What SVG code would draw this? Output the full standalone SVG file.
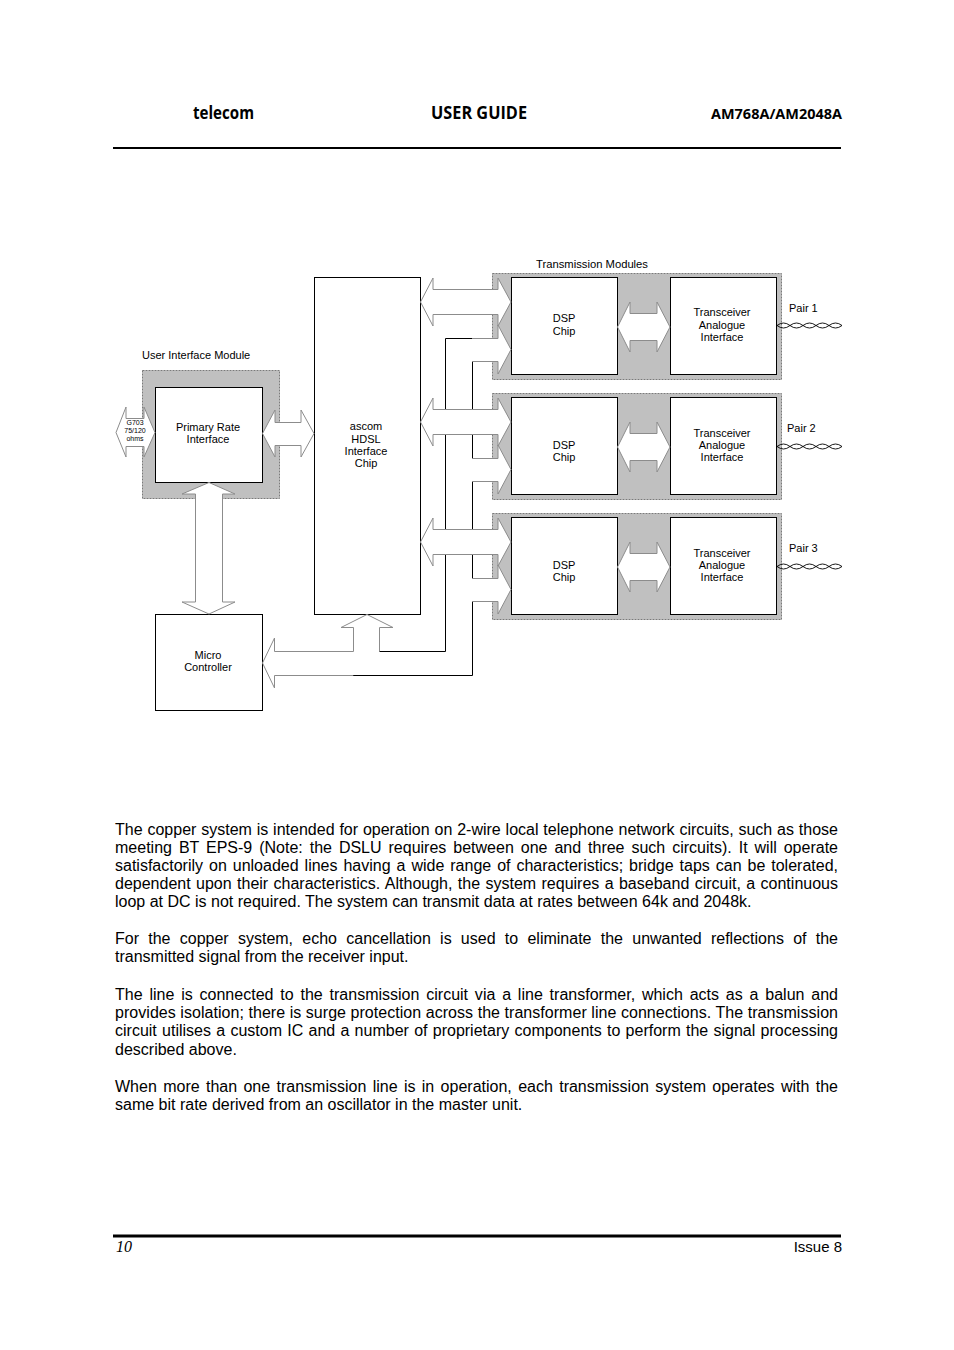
<svg xmlns="http://www.w3.org/2000/svg" width="954" height="1350" viewBox="0 0 954 1350">
<style>
.hdr{font-family:"Open Sans","DejaVu Sans",sans-serif;font-weight:700;fill:#000}
.lbl{font-family:"Liberation Sans",Arial,sans-serif;font-size:11px;fill:#000}
.ctr{text-anchor:middle}
.body{font-family:"Liberation Sans",Arial,sans-serif;font-size:16px;fill:#000}
.box{fill:#fff;stroke:#000;stroke-width:1}
.mod{fill:#c0c0c0;stroke:#7a7a7a;stroke-width:1;stroke-dasharray:2 1}
.arr{fill:#fff;stroke:#8c8c8c;stroke-width:1;stroke-linejoin:miter}
.wire{fill:none;stroke:#000;stroke-width:1}
.tw{fill:none;stroke:#000;stroke-width:0.9}
</style>
<rect width="954" height="1350" fill="#fff"/>

<g id="header">
<text class="hdr" x="193" y="119" font-size="17" textLength="61" lengthAdjust="spacingAndGlyphs">telecom</text>
<text class="hdr" x="431" y="119" font-size="17" textLength="96" lengthAdjust="spacingAndGlyphs">USER GUIDE</text>
<text class="hdr" x="711" y="119" font-size="14" textLength="131" lengthAdjust="spacingAndGlyphs">AM768A/AM2048A</text>
<line x1="113" y1="148" x2="841" y2="148" stroke="#000" stroke-width="2"/>
</g>

<g id="ui-module">
<rect class="mod" x="142.5" y="370.5" width="137" height="128"/>
<text class="lbl" x="142" y="359">User Interface Module</text>
</g>
<g id="transmission-modules">
<text class="lbl" x="536" y="268" textLength="112" lengthAdjust="spacingAndGlyphs">Transmission Modules</text>
<rect class="mod" x="492.5" y="273.5" width="289" height="106"/>
<rect class="mod" x="492.5" y="393.5" width="289" height="106"/>
<rect class="mod" x="492.5" y="513.5" width="289" height="106"/>
</g>

<g id="primary-rate-interface">
<rect class="box" x="155.5" y="387.5" width="107" height="95"/>
<text class="lbl ctr" x="208" y="431">Primary Rate</text>
<text class="lbl ctr" x="208" y="443">Interface</text>
</g>
<g id="ascom-chip">
<rect class="box" x="314.5" y="277.5" width="106" height="337"/>
<text class="lbl ctr" x="366" y="430">ascom</text>
<text class="lbl ctr" x="366" y="443">HDSL</text>
<text class="lbl ctr" x="366" y="455">Interface</text>
<text class="lbl ctr" x="366" y="467">Chip</text>
</g>
<g id="micro-controller">
<rect class="box" x="155.5" y="614.5" width="107" height="96"/>
<text class="lbl ctr" x="208" y="659">Micro</text>
<text class="lbl ctr" x="208" y="671">Controller</text>
</g>

<g id="dsp1">
<rect class="box" x="511.5" y="277.5" width="106" height="97"/>
<text class="lbl ctr" x="564" y="322">DSP</text>
<text class="lbl ctr" x="564" y="335">Chip</text>
</g>
<g id="dsp2">
<rect class="box" x="511.5" y="397.5" width="106" height="97"/>
<text class="lbl ctr" x="564" y="449">DSP</text>
<text class="lbl ctr" x="564" y="461">Chip</text>
</g>
<g id="dsp3">
<rect class="box" x="511.5" y="517.5" width="106" height="97"/>
<text class="lbl ctr" x="564" y="569">DSP</text>
<text class="lbl ctr" x="564" y="581">Chip</text>
</g>
<g id="tai1">
<rect class="box" x="670.5" y="277.5" width="106" height="97"/>
<text class="lbl ctr" x="722" y="316">Transceiver</text>
<text class="lbl ctr" x="722" y="329">Analogue</text>
<text class="lbl ctr" x="722" y="341">Interface</text>
</g>
<g id="tai2">
<rect class="box" x="670.5" y="397.5" width="106" height="97"/>
<text class="lbl ctr" x="722" y="437">Transceiver</text>
<text class="lbl ctr" x="722" y="449">Analogue</text>
<text class="lbl ctr" x="722" y="461">Interface</text>
</g>
<g id="tai3">
<rect class="box" x="670.5" y="517.5" width="106" height="97"/>
<text class="lbl ctr" x="722" y="557">Transceiver</text>
<text class="lbl ctr" x="722" y="569">Analogue</text>
<text class="lbl ctr" x="722" y="581">Interface</text>
</g>

<g id="pairs">
<text class="lbl" x="789" y="312">Pair 1</text>
<text class="lbl" x="787" y="432">Pair 2</text>
<text class="lbl" x="789" y="552">Pair 3</text>
<path class="tw" d="M777,325.5 q6.5,-5 13,0 t13,0 t13,0 t13,0 t13,0"/>
<path class="tw" d="M777,325.5 q6.5,5 13,0 t13,0 t13,0 t13,0 t13,0"/>
<path class="tw" d="M777,446.5 q6.5,-5 13,0 t13,0 t13,0 t13,0 t13,0"/>
<path class="tw" d="M777,446.5 q6.5,5 13,0 t13,0 t13,0 t13,0 t13,0"/>
<path class="tw" d="M777,566.5 q6.5,-5 13,0 t13,0 t13,0 t13,0 t13,0"/>
<path class="tw" d="M777,566.5 q6.5,5 13,0 t13,0 t13,0 t13,0 t13,0"/>
</g>

<g id="connectors">
<path class="wire" d="M379,651.5 H445.5 V338.5 H472"/>
<path class="wire" d="M353,675.5 H472.5 V601.5 M472.5,578.5 V481.5 M472.5,458.5 V361.5"/>
<path class="arr" d="M379.5,651.5 V627.5 H393 L367,614.5 L341,627.5 H353.5 V651.5 H274.5 V638 L262.5,663 L274.5,688 V675.5 H353"/>
<path class="arr" d="M126,418.5 H144 V407 L155,432.5 L144,457 V446.5 H126 V457 L116,432.5 L126,407 Z"/>
<path class="arr" d="M275,422.5 H301 V410 L314,433.5 L301,457 V445.5 H275 V457 L262.5,433.5 L275,410 Z"/>
<path class="arr" d="M195.5,494 V602 H182 L209,614 L235,602 H222.5 V494 H235 L209,482.5 L182,494 Z"/>
<path class="arr" d="M433,289.5 H498 V278 L511,302 L498,326 V314.5 H433 V326 L420.5,302 L433,278 Z"/>
<path class="arr" d="M433,409.5 H498 V398 L511,422 L498,446 V434.5 H433 V446 L420.5,422 L433,398 Z"/>
<path class="arr" d="M433,529.5 H498 V518 L511,542 L498,566 V554.5 H433 V566 L420.5,542 L433,518 Z"/>
<path class="arr" d="M472,338.5 H498 V325 L511,349.5 L498,374 V361.5 H472"/>
<path class="arr" d="M472,458.5 H498 V445 L511,469.5 L498,494 V481.5 H472"/>
<path class="arr" d="M472,578.5 H498 V565 L511,589.5 L498,614 V601.5 H472"/>
<path class="arr" d="M630,313.5 H657 V302 L670,327 L657,352 V340.5 H630 V352 L617.5,327 L630,302 Z"/>
<path class="arr" d="M630,433.5 H657 V422 L670,447 L657,472 V460.5 H630 V472 L617.5,447 L630,422 Z"/>
<path class="arr" d="M630,553.5 H657 V542 L670,567 L657,592 V580.5 H630 V592 L617.5,567 L630,542 Z"/>
</g>

<g id="g703-label">
<text class="lbl ctr" x="135" y="424.5" style="font-size:7px">G703</text>
<text class="lbl ctr" x="135" y="432.5" style="font-size:7px">75/120</text>
<text class="lbl ctr" x="135" y="440.5" style="font-size:7px">ohms</text>
</g>

<g id="body-text">
<text class="body" x="115" y="834.5" word-spacing="0.4" textLength="723" lengthAdjust="spacing">The copper system is intended for operation on 2-wire local telephone network circuits, such as those</text>
<text class="body" x="115" y="852.5" word-spacing="2.5" textLength="723" lengthAdjust="spacing">meeting BT EPS-9 (Note: the DSLU requires between one and three such circuits). It will operate</text>
<text class="body" x="115" y="870.5" word-spacing="1.5" textLength="723" lengthAdjust="spacing">satisfactorily on unloaded lines having a wide range of characteristics; bridge taps can be tolerated,</text>
<text class="body" x="115" y="888.5" word-spacing="0.9" textLength="723" lengthAdjust="spacing">dependent upon their characteristics. Although, the system requires a baseband circuit, a continuous</text>
<text class="body" x="115" y="906.5">loop at DC is not required. The system can transmit data at rates between 64k and 2048k.</text>
<text class="body" x="115" y="943.5" word-spacing="4.8" textLength="723" lengthAdjust="spacing">For the copper system, echo cancellation is used to eliminate the unwanted reflections of the</text>
<text class="body" x="115" y="962">transmitted signal from the receiver input.</text>
<text class="body" x="115" y="999.5" word-spacing="2.35" textLength="723" lengthAdjust="spacing">The line is connected to the transmission circuit via a line transformer, which acts as a balun and</text>
<text class="body" x="115" y="1017.5" textLength="723" lengthAdjust="spacing">provides isolation; there is surge protection across the transformer line connections. The transmission</text>
<text class="body" x="115" y="1036" word-spacing="0.8" textLength="723" lengthAdjust="spacing">circuit utilises a custom IC and a number of proprietary components to perform the signal processing</text>
<text class="body" x="115" y="1054.5">described above.</text>
<text class="body" x="115" y="1091.5" word-spacing="1.9" textLength="723" lengthAdjust="spacing">When more than one transmission line is in operation, each transmission system operates with the</text>
<text class="body" x="115" y="1109.5">same bit rate derived from an oscillator in the master unit.</text>
</g>

<g id="footer">
<line x1="113" y1="1236" x2="841" y2="1236" stroke="#000" stroke-width="3"/>
<text x="116" y="1252" font-family="Liberation Serif, serif" font-style="italic" font-size="16">10</text>
<text x="842" y="1252" font-family="Liberation Sans, Arial, sans-serif" font-size="15" text-anchor="end">Issue 8</text>
</g>
</svg>
